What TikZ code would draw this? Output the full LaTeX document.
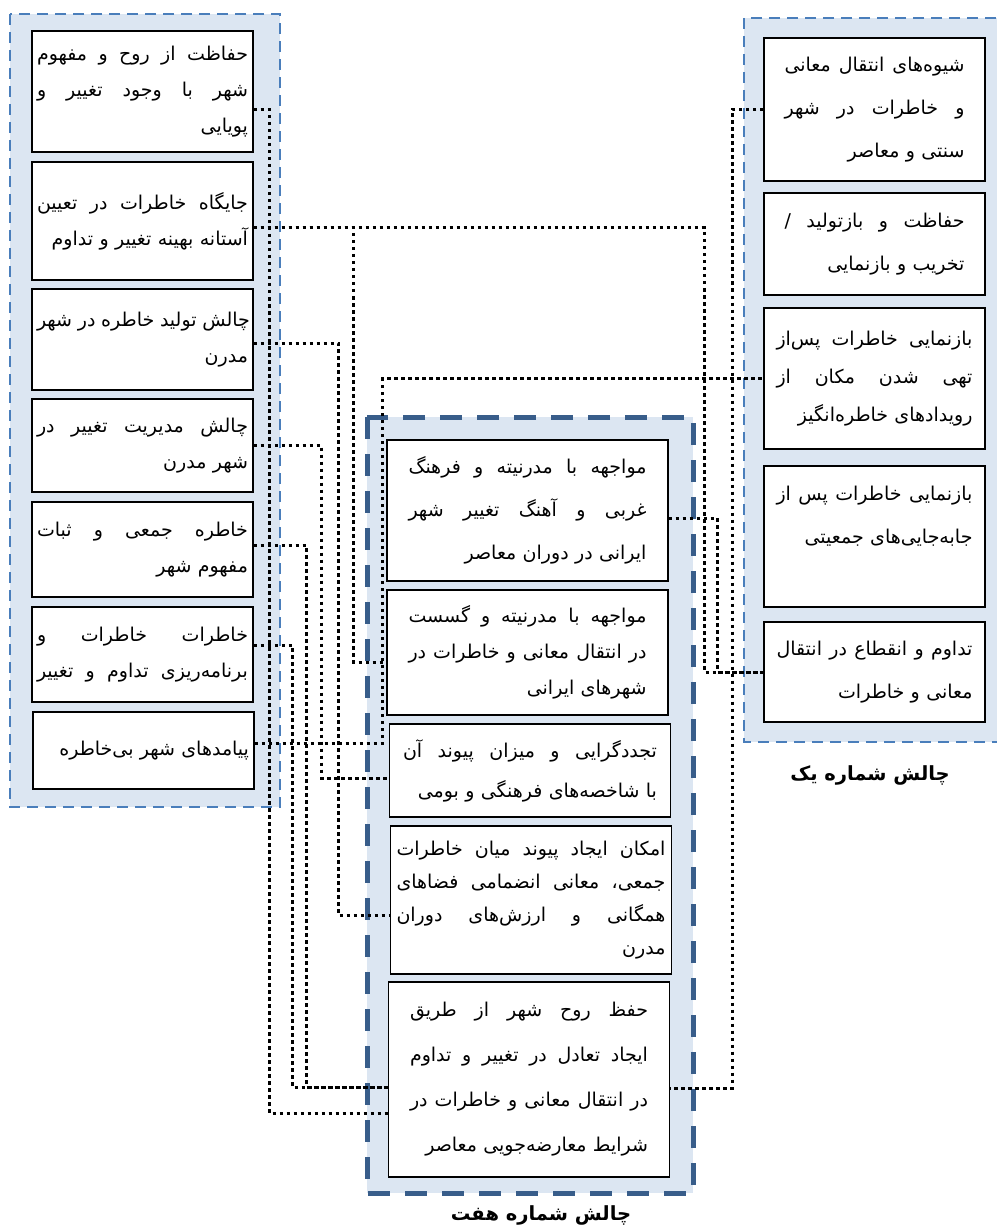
\documentclass[tikz,border=0pt]{standalone}
\usepackage{fontspec}
\usepackage{tikz}
\newfontfamily\farsi[Script=Arabic]{DejaVu Sans}
\TeXXeTstate=1
\definecolor{panelblue}{RGB}{220,230,242}
\definecolor{dashblue}{RGB}{74,126,187}
\definecolor{deepblue}{RGB}{56,93,138}
\newcommand\fullrow[1]{\hbox to\hsize{\spaceskip=0.3em plus 1fil\beginR #1\endR}}
\newcommand\lastrow[1]{\hbox to\hsize{\hfill\beginR #1\endR}}
\newcommand\rows[1]{\vbox{#1}}
\tikzset{
	idea/.style={draw=black, line width=1.2pt, fill=white, inner xsep=5pt, inner ysep=0pt,
		font=\farsi\fontsize{19}{#1}\selectfont},
	idea/.default=36,
	leftbox/.style={idea, minimum width=221pt, text width=211pt},
	rightbox/.style={idea=43, minimum width=221pt},
	midbox/.style={idea=43, minimum width=281pt},
	panel/.style={fill=panelblue, draw=dashblue, line width=2.2pt, dash pattern=on 11pt off 7pt},
	mainpanel/.style={fill=panelblue, draw=deepblue, line width=5pt, dash pattern=on 22pt off 15pt},
	link/.style={line width=3pt, dash pattern=on 3.5pt off 3.5pt},
	title/.style={font=\farsi\bfseries\fontsize{19.5}{24}\selectfont}
}

\begin{document}
\begin{tikzpicture}[x=1pt, y=-1pt]
		%%%%% START %%%%%
		\useasboundingbox (0,0) rectangle (996,1230);
		
		\draw[panel] (10,14) rectangle (280,807);
		\draw[panel] (744,18) rectangle (1010,742);
		\draw[mainpanel] (367,417) rectangle (693,1193);
		
		\node[title] (t2) at (148,776) {\beginR چالش شماره دو\endR};
		\node[title] (t1) at (870,775) {\beginR چالش شماره یک\endR};
		\node[title] (t7) at (541,1215) {\beginR چالش شماره هفت\endR};
		
		%% chalesh do
		\node[leftbox, minimum height=121pt] (l1) at (142.5,91.5)
			{\rows{\fullrow{حفاظت از روح و مفهوم}\fullrow{شهر با وجود تغییر و}\lastrow{پویایی}}};
		\node[leftbox, minimum height=118pt] (l2) at (142.5,221)
			{\rows{\fullrow{جایگاه خاطرات در تعیین}\lastrow{آستانه بهینه تغییر و تداوم}}};
		\node[leftbox, minimum height=101pt] (l3) at (142.5,339.5)
			{\rows{\fullrow{چالش تولید خاطره در شهر}\lastrow{مدرن}}};
		\node[leftbox, minimum height=93pt] (l4) at (142.5,445.5)
			{\rows{\fullrow{چالش مدیریت تغییر در}\lastrow{شهر مدرن}}};
		\node[leftbox, minimum height=95pt] (l5) at (142.5,549.5)
			{\rows{\fullrow{خاطره جمعی و ثبات}\lastrow{مفهوم شهر}}};
		\node[leftbox, minimum height=95pt] (l6) at (142.5,654.5)
			{\rows{\fullrow{خاطرات خاطرات و}\fullrow{برنامه‌ریزی تداوم و تغییر}}};
		\node[leftbox, minimum height=77pt] (l7) at (143.5,750.5)
			{\rows{\lastrow{پیامدهای شهر بی‌خاطره}}};
		
		%% chalesh yek
		\node[rightbox, text width=180pt, minimum height=143pt] (r1) at (874.5,109.5)
			{\rows{\fullrow{شیوه‌های انتقال معانی}\fullrow{و خاطرات در شهر}\lastrow{سنتی و معاصر}}};
		\node[rightbox, text width=180pt, minimum height=102pt] (r2) at (874.5,244)
			{\rows{\fullrow{حفاظت و بازتولید /}\lastrow{تخریب و بازنمایی}}};
		\node[rightbox, idea=38, text width=196pt, minimum height=141pt] (r3) at (874.5,378.5)
			{\rows{\fullrow{بازنمایی خاطرات پس‌از}\fullrow{تهی شدن مکان از}\lastrow{رویدادهای خاطره‌انگیز}}};
		\node[rightbox, text width=196pt, minimum height=141pt] (r4) at (874.5,536.5)
			{\rows{\fullrow{بازنمایی خاطرات پس از}\lastrow{جابه‌جایی‌های جمعیتی}\lastrow{}}};
		\node[rightbox, text width=196pt, minimum height=100pt] (r5) at (874.5,672)
			{\rows{\fullrow{تداوم و انقطاع در انتقال}\lastrow{معانی و خاطرات}}};
		
		%% chalesh haft
		\node[midbox, text width=238pt, minimum height=141pt] (m1) at (527.5,510.5)
			{\rows{\fullrow{مواجهه با مدرنیته و فرهنگ}\fullrow{غربی و آهنگ تغییر شهر}\lastrow{ایرانی در دوران معاصر}}};
		\node[midbox, idea=36, text width=238pt, minimum height=125pt] (m2) at (527.5,652.5)
			{\rows{\fullrow{مواجهه با مدرنیته و گسست}\fullrow{در انتقال معانی و خاطرات در}\lastrow{شهرهای ایرانی}}};
		\node[midbox, idea=40, text width=254pt, minimum height=93pt] (m3) at (530,770.5)
			{\rows{\fullrow{تجددگرایی و میزان پیوند آن}\lastrow{با شاخصه‌های فرهنگی و بومی}}};
		\node[midbox, idea=33, text width=269pt, minimum height=148pt] (m4) at (531,900)
			{\rows{\fullrow{امکان ایجاد پیوند میان خاطرات}\fullrow{جمعی، معانی انضمامی فضاهای}\fullrow{همگانی و ارزش‌های دوران}\lastrow{مدرن}}};
		\node[midbox, idea=45, text width=238pt, minimum height=195pt] (m5) at (529,1079.5)
			{\rows{\fullrow{حفظ روح شهر از طریق}\fullrow{ایجاد تعادل در تغییر و تداوم}\fullrow{در انتقال معانی و خاطرات در}\lastrow{شرایط معارضه‌جویی معاصر}}};
		
		%% links
		\draw[link] ([yshift=-18.5pt]l1.east) -- ++(16,0) |- ([yshift=-33.5pt]m5.west);
		\draw[link] ([yshift=-7pt]l2.east) -- ++(451,0) |- (r5.west);
		\draw[link] ([yshift=-7pt]l2.east) -- ++(100,0) |- ([yshift=-9.5pt]m2.west);
		\draw[link] ([yshift=-3.5pt]l3.east) -- ++(85,0) |- ([yshift=-15pt]m4.west);
		\draw[link] (l4.east) -- ++(68,0) |- ([yshift=-7.5pt]m3.west);
		\draw[link] ([yshift=4.5pt]l5.east) -- ++(53,0) |- ([yshift=-7.5pt]m5.west);
		\draw[link] ([yshift=9.5pt]l6.east) -- ++(39,0) |- ([yshift=-7.5pt]m5.west);
		\draw[link] ([yshift=7.5pt]l7.east) -- ++(128,0) |- (r3.west);
		\draw[link] (r1.west) -- ++(-31,0) |- ([yshift=-8.5pt]m5.east);
		\draw[link] ([yshift=-7.5pt]m1.east) -- ++(49,0) |- (r5.west);
		%%%%% END %%%%%
	\end{tikzpicture}
\end{document}
